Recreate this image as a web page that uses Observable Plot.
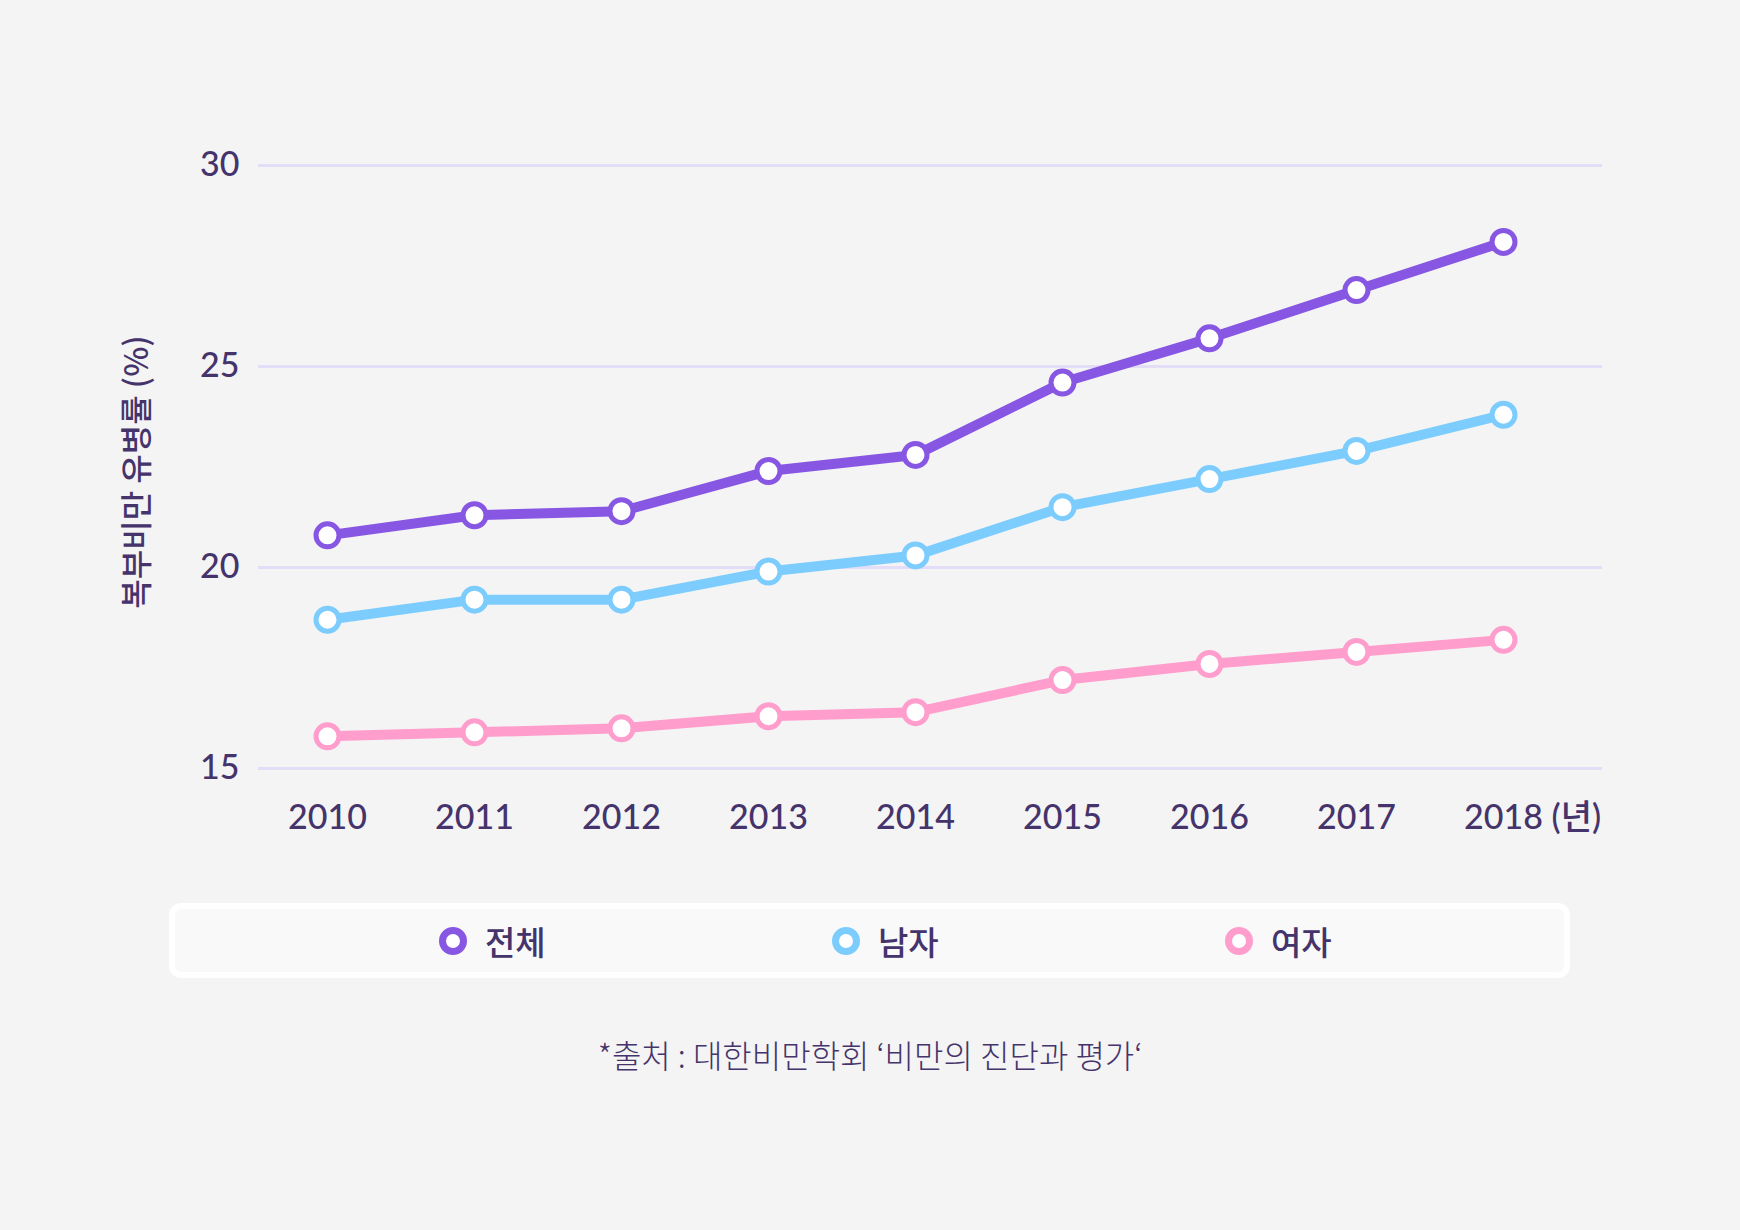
<!DOCTYPE html>
<html>
<head>
<meta charset="utf-8">
<script src="https://cdn.jsdelivr.net/npm/d3@7"></script>
<script src="https://cdn.jsdelivr.net/npm/@observablehq/plot@0.6"></script>
<style>
  html, body { margin: 0; padding: 0; background: #f4f4f4; }
  #page { position: relative; width: 1740px; height: 1230px; background: #f4f4f4; overflow: hidden; }
  #chart { position: absolute; left: 0; top: 0; }
  #legend {
    position: absolute; left: 169px; top: 903px; width: 1401px; height: 75px;
    box-sizing: border-box; background: #f9f9fa; border: 6px solid #ffffff; border-radius: 12px;
  }
  .item { position: absolute; top: 0; height: 63px; display: flex; align-items: center;
    font-family: "Noto Sans CJK KR", sans-serif; font-size: 33px; font-weight: 500; color: #45336b; }
  .item svg { margin-right: 18px; }
  #caption {
    position: absolute; left: 0; width: 1740px; top: 1031px; text-align: center;
    font-family: "Noto Sans CJK KR", sans-serif; font-size: 32px; font-weight: 300; color: #45336b;
  }
</style>
</head>
<body>
<div id="page">
  <div id="chart"></div>
  <div id="legend"></div>
  <div id="caption"></div>
</div>
<script>
const years = [2010, 2011, 2012, 2013, 2014, 2015, 2016, 2017, 2018];
const seriesNames = ["전체", "남자", "여자"];
const seriesColors = ["#8757e3", "#7ccdfe", "#ff9dcd"];
const totalValues = [20.8, 21.3, 21.4, 22.4, 22.8, 24.6, 25.7, 26.9, 28.1];
const maleValues = [18.7, 19.2, 19.2, 19.9, 20.3, 21.5, 22.2, 22.9, 23.8];
const femaleValues = [15.8, 15.9, 16.0, 16.3, 16.4, 17.2, 17.6, 17.9, 18.2];
const yTicks = [15, 20, 25, 30];
const yLabel = "복부비만 유병률 (%)";
const xUnit = "(년)";
const caption = "*출처 : 대한비만학회 ‘비만의 진단과 평가‘";

const valueLists = [totalValues, maleValues, femaleValues];
const rows = [];
seriesNames.forEach((s, i) => years.forEach((y, j) => rows.push({year: y, value: valueLists[i][j], series: s})));

const chart = Plot.plot({
  width: 1740,
  height: 870,
  marginLeft: 258,
  marginRight: 138,
  marginTop: 165,
  marginBottom: 102,
  style: {fontFamily: "Lato, 'Noto Sans CJK KR', sans-serif", fontSize: "34px", fontWeight: 500, color: "#45336b", background: "transparent"},
  x: {domain: [years[0], years[years.length - 1]], insetLeft: 69, insetRight: 99},
  y: {domain: [15, 30]},
  color: {domain: seriesNames, range: seriesColors},
  marks: [
    Plot.ruleY(yTicks, {stroke: "#e4ddf7", strokeWidth: 3}),
    Plot.axisY({ticks: yTicks, tickSize: 0, tickPadding: 19, label: null}),
    Plot.axisX({ticks: years, tickSize: 0, tickPadding: 36, tickFormat: d => String(d), label: null}),
    Plot.text([{year: years[years.length - 1], t: xUnit}], {x: "year", text: "t", frameAnchor: "bottom", dy: 50, dx: 48, textAnchor: "start", lineAnchor: "middle", fill: "#45336b"}),
    Plot.text([yLabel], {text: d => d, frameAnchor: "left", textAnchor: "middle", rotate: -90, dx: -121, dy: 5, fill: "#45336b", fontSize: 32, fontFamily: "'Noto Sans CJK KR', sans-serif", fontWeight: 500}),
    Plot.line(rows, {x: "year", y: "value", z: "series", stroke: "series", strokeWidth: 10, strokeLinejoin: "round", strokeLinecap: "round"}),
    Plot.dot(rows, {x: "year", y: "value", stroke: "series", fill: "#ffffff", r: 11.5, strokeWidth: 5})
  ]
});
document.getElementById("chart").appendChild(chart);

const legend = document.getElementById("legend");
const legendX = [453, 846, 1239];
seriesNames.forEach((s, i) => {
  const div = document.createElement("div");
  div.className = "item";
  div.style.left = (legendX[i] - 14 - 175) + "px";
  div.innerHTML = `<svg width="28" height="28"><circle cx="14" cy="14" r="10.5" fill="#fff" stroke="${seriesColors[i]}" stroke-width="7"/></svg><span>${s}</span>`;
  legend.appendChild(div);
});
document.getElementById("caption").textContent = caption;
</script>
</body>
</html>
